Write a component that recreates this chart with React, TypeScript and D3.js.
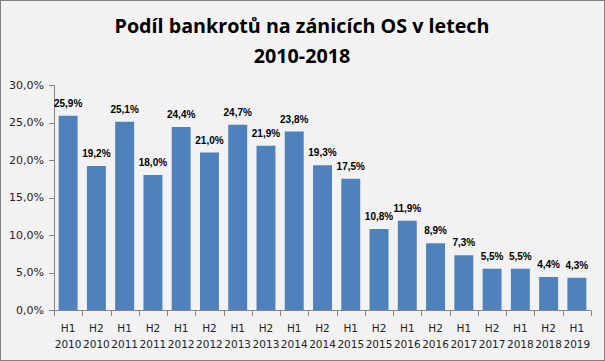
import { useEffect, useRef } from 'react';
import * as d3 from 'd3';

const halves = ['H1', 'H2', 'H1', 'H2', 'H1', 'H2', 'H1', 'H2', 'H1', 'H2', 'H1', 'H2', 'H1', 'H2', 'H1', 'H2', 'H1', 'H2', 'H1'];
const years = ['2010', '2010', '2011', '2011', '2012', '2012', '2013', '2013', '2014', '2014', '2015', '2015', '2016', '2016', '2017', '2017', '2018', '2018', '2019'];
const shares = [25.9, 19.2, 25.1, 18.0, 24.4, 21.0, 24.7, 21.9, 23.8, 19.3, 17.5, 10.8, 11.9, 8.9, 7.3, 5.5, 5.5, 4.4, 4.3];
const yTicks = [0, 5, 10, 15, 20, 25, 30];

const W = 605;
const H = 361;

export default function App() {
  const ref = useRef<SVGSVGElement>(null);

  useEffect(() => {
    if (!ref.current) return;
    const svg = d3.select(ref.current);
    svg.selectAll('*').remove();

    const fmt = (v: number) => v.toFixed(1).replace('.', ',') + '%';
    const keys = shares.map((_, i) => String(i));

    const x = d3.scaleBand().domain(keys).range([54, 591]).paddingInner(0.33).paddingOuter(0.165);
    const y = d3.scaleLinear().domain([0, 30]).range([310, 85]);
    const axisColor = '#868686';

    // background + border
    svg.append('rect')
      .attr('x', 0.5).attr('y', 0.5)
      .attr('width', W - 1).attr('height', H - 1)
      .attr('fill', '#f2f2f2')
      .attr('stroke', '#808080');

    // title
    const title = svg.append('text')
      .attr('text-anchor', 'middle')
      .attr('font-family', 'Open Sans, sans-serif')
      .attr('font-weight', 'bold')
      .attr('font-size', 19.7)
      .attr('fill', '#000');
    title.append('tspan').attr('x', 302).attr('y', 33).text('Podíl bankrotů na zánicích OS v letech');
    title.append('tspan').attr('x', 302).attr('y', 63).text('2010-2018');

    // y axis
    const yAxis = svg.append('g');
    yAxis.append('line')
      .attr('x1', 54.5).attr('x2', 54.5)
      .attr('y1', y(30)).attr('y2', y(0))
      .attr('stroke', axisColor);
    yTicks.forEach(t => {
      yAxis.append('line')
        .attr('x1', 49).attr('x2', 54.5)
        .attr('y1', Math.round(y(t)) + 0.5).attr('y2', Math.round(y(t)) + 0.5)
        .attr('stroke', axisColor);
      yAxis.append('text')
        .attr('x', 44).attr('y', y(t))
        .attr('dy', '0.35em')
        .attr('text-anchor', 'end')
        .attr('font-family', 'DejaVu Sans, sans-serif')
        .attr('font-size', 11)
        .attr('fill', '#222')
        .text(fmt(t));
    });

    // bars
    svg.append('g').selectAll('rect')
      .data(shares)
      .enter()
      .append('rect')
      .attr('x', (_, i) => x(String(i))!)
      .attr('width', x.bandwidth())
      .attr('y', d => y(d))
      .attr('height', d => y(0) - y(d))
      .attr('fill', '#4f81bd');

    // value labels
    svg.append('g').selectAll('text')
      .data(shares)
      .enter()
      .append('text')
      .attr('x', (_, i) => x(String(i))! + x.bandwidth() / 2)
      .attr('y', d => y(d) - 9)
      .attr('text-anchor', 'middle')
      .attr('font-family', 'Liberation Sans, Arial, sans-serif')
      .attr('font-weight', 'bold')
      .attr('font-size', 10)
      .attr('fill', '#000')
      .text(d => fmt(d));

    // x axis
    const xAxis = svg.append('g');
    xAxis.append('line')
      .attr('x1', 54).attr('x2', 591)
      .attr('y1', 310.5).attr('y2', 310.5)
      .attr('stroke', axisColor);
    const step = x.step();
    d3.range(shares.length + 1).forEach(i => {
      const px = Math.round(54 + i * step) + 0.5;
      xAxis.append('line')
        .attr('x1', px).attr('x2', px)
        .attr('y1', 310.5).attr('y2', 316)
        .attr('stroke', axisColor);
    });
    keys.forEach((k, i) => {
      const cx = x(k)! + x.bandwidth() / 2;
      const t = xAxis.append('text')
        .attr('text-anchor', 'middle')
        .attr('font-family', 'DejaVu Sans, sans-serif')
        .attr('font-size', 10.5)
        .attr('fill', '#222');
      t.append('tspan').attr('x', cx).attr('y', 332).text(halves[i]);
      t.append('tspan').attr('x', cx).attr('y', 348).text(years[i]);
    });
  }, []);

  return (
    <svg
      ref={ref}
      width={W}
      height={H}
      style={{ position: 'absolute', left: 0, top: 0 }}
    />
  );
}
